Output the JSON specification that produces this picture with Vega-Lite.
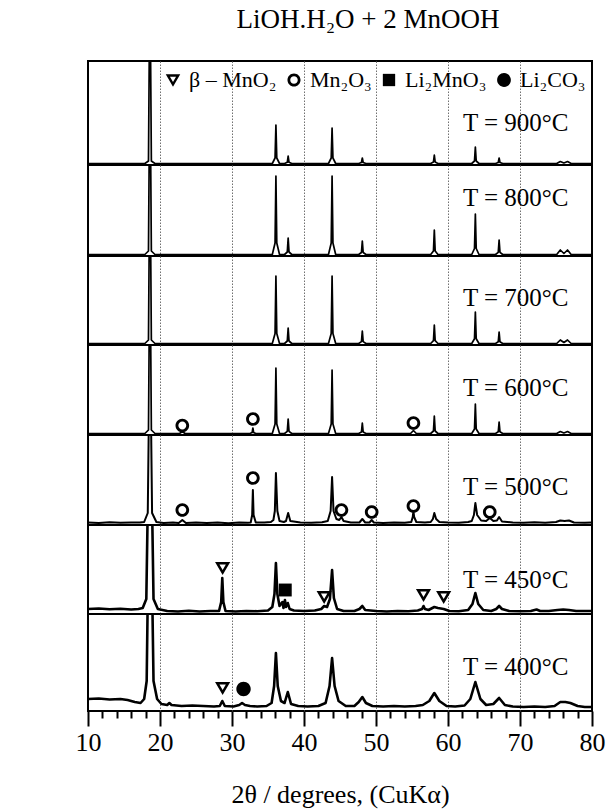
{
  "$schema": "https://vega.github.io/schema/vega-lite/v6.json",
  "background": "white",
  "padding": {"left": 74, "right": 10, "top": 6, "bottom": 2},
  "autosize": {"type": "pad"},
  "title": {"text": "LiOH.H₂O + 2 MnOOH", "font": "Liberation Serif", "fontSize": 27, "fontWeight": "normal", "color": "black", "anchor": "middle", "offset": 26, "dx": 28},
  "spacing": 0,
  "bounds": "flush",
  "datasets": {
    "patterns": [
      {"T":900,"x":10,"I":1.5},{"T":900,"x":17.9,"I":1.5},{"T":900,"x":18.4,"I":4},{"T":900,"x":18.6,"I":200},{"T":900,"x":18.8,"I":4},{"T":900,"x":19.3,"I":1.5},
      {"T":900,"x":35.6,"I":1.5},{"T":900,"x":35.98,"I":7},{"T":900,"x":36.1,"I":40},{"T":900,"x":36.22,"I":7},{"T":900,"x":36.6,"I":1.5},
      {"T":900,"x":37.3,"I":1.5},{"T":900,"x":37.68,"I":2.7},{"T":900,"x":37.8,"I":9},{"T":900,"x":37.92,"I":2.7},{"T":900,"x":38.3,"I":1.5},
      {"T":900,"x":43.4,"I":1.5},{"T":900,"x":43.78,"I":7},{"T":900,"x":43.9,"I":37},{"T":900,"x":44.02,"I":7},{"T":900,"x":44.4,"I":1.5},
      {"T":900,"x":47.6,"I":1.5},{"T":900,"x":47.98,"I":2.5},{"T":900,"x":48.1,"I":7},{"T":900,"x":48.22,"I":2.5},{"T":900,"x":48.6,"I":1.5},
      {"T":900,"x":57.6,"I":1.5},{"T":900,"x":57.98,"I":3},{"T":900,"x":58.1,"I":10},{"T":900,"x":58.22,"I":3},{"T":900,"x":58.6,"I":1.5},
      {"T":900,"x":63.3,"I":1.5},{"T":900,"x":63.68,"I":4},{"T":900,"x":63.8,"I":18},{"T":900,"x":63.92,"I":4},{"T":900,"x":64.3,"I":1.5},
      {"T":900,"x":66.6,"I":1.5},{"T":900,"x":66.98,"I":2.5},{"T":900,"x":67.1,"I":7},{"T":900,"x":67.22,"I":2.5},{"T":900,"x":67.6,"I":1.5},
      {"T":900,"x":75.1,"I":1.5},{"T":900,"x":75.6,"I":3.5},{"T":900,"x":76.1,"I":2},{"T":900,"x":76.6,"I":3.5},{"T":900,"x":77.1,"I":1.5},{"T":900,"x":80,"I":1.5},

      {"T":800,"x":10,"I":1.5},{"T":800,"x":17.9,"I":1.5},{"T":800,"x":18.4,"I":5},{"T":800,"x":18.6,"I":200},{"T":800,"x":18.8,"I":5},{"T":800,"x":19.3,"I":1.5},
      {"T":800,"x":35.6,"I":1.5},{"T":800,"x":35.98,"I":13},{"T":800,"x":36.1,"I":80},{"T":800,"x":36.22,"I":13},{"T":800,"x":36.6,"I":1.5},
      {"T":800,"x":37.3,"I":1.5},{"T":800,"x":37.68,"I":4},{"T":800,"x":37.8,"I":18},{"T":800,"x":37.92,"I":4},{"T":800,"x":38.3,"I":1.5},
      {"T":800,"x":43.4,"I":1.5},{"T":800,"x":43.78,"I":13},{"T":800,"x":43.9,"I":80},{"T":800,"x":44.02,"I":13},{"T":800,"x":44.4,"I":1.5},
      {"T":800,"x":47.6,"I":1.5},{"T":800,"x":47.98,"I":3.5},{"T":800,"x":48.1,"I":15},{"T":800,"x":48.22,"I":3.5},{"T":800,"x":48.6,"I":1.5},
      {"T":800,"x":57.6,"I":1.5},{"T":800,"x":57.98,"I":5},{"T":800,"x":58.1,"I":26},{"T":800,"x":58.22,"I":5},{"T":800,"x":58.6,"I":1.5},
      {"T":800,"x":63.3,"I":1.5},{"T":800,"x":63.68,"I":7.5},{"T":800,"x":63.8,"I":42},{"T":800,"x":63.92,"I":7.5},{"T":800,"x":64.3,"I":1.5},
      {"T":800,"x":66.6,"I":1.5},{"T":800,"x":66.98,"I":3.7},{"T":800,"x":67.1,"I":16},{"T":800,"x":67.22,"I":3.7},{"T":800,"x":67.6,"I":1.5},
      {"T":800,"x":75.1,"I":1.5},{"T":800,"x":75.6,"I":6},{"T":800,"x":76.1,"I":2.5},{"T":800,"x":76.6,"I":6},{"T":800,"x":77.1,"I":1.5},{"T":800,"x":80,"I":1.5},

      {"T":700,"x":10,"I":1.5},{"T":700,"x":17.9,"I":1.5},{"T":700,"x":18.4,"I":5},{"T":700,"x":18.6,"I":200},{"T":700,"x":18.8,"I":5},{"T":700,"x":19.3,"I":1.5},
      {"T":700,"x":35.6,"I":1.5},{"T":700,"x":35.98,"I":11.5},{"T":700,"x":36.1,"I":69},{"T":700,"x":36.22,"I":11.5},{"T":700,"x":36.6,"I":1.5},
      {"T":700,"x":37.3,"I":1.5},{"T":700,"x":37.68,"I":4},{"T":700,"x":37.8,"I":17},{"T":700,"x":37.92,"I":4},{"T":700,"x":38.3,"I":1.5},
      {"T":700,"x":43.4,"I":1.5},{"T":700,"x":43.78,"I":11.5},{"T":700,"x":43.9,"I":69},{"T":700,"x":44.02,"I":11.5},{"T":700,"x":44.4,"I":1.5},
      {"T":700,"x":47.6,"I":1.5},{"T":700,"x":47.98,"I":3.4},{"T":700,"x":48.1,"I":14},{"T":700,"x":48.22,"I":3.4},{"T":700,"x":48.6,"I":1.5},
      {"T":700,"x":57.6,"I":1.5},{"T":700,"x":57.98,"I":4.3},{"T":700,"x":58.1,"I":20},{"T":700,"x":58.22,"I":4.3},{"T":700,"x":58.6,"I":1.5},
      {"T":700,"x":63.3,"I":1.5},{"T":700,"x":63.68,"I":6.2},{"T":700,"x":63.8,"I":33},{"T":700,"x":63.92,"I":6.2},{"T":700,"x":64.3,"I":1.5},
      {"T":700,"x":66.6,"I":1.5},{"T":700,"x":66.98,"I":3.2},{"T":700,"x":67.1,"I":13},{"T":700,"x":67.22,"I":3.2},{"T":700,"x":67.6,"I":1.5},
      {"T":700,"x":75.1,"I":1.5},{"T":700,"x":75.6,"I":5},{"T":700,"x":76.1,"I":2.5},{"T":700,"x":76.6,"I":5},{"T":700,"x":77.1,"I":1.5},{"T":700,"x":80,"I":1.5},

      {"T":600,"x":10,"I":1.5},{"T":600,"x":17.9,"I":1.5},{"T":600,"x":18.4,"I":5},{"T":600,"x":18.6,"I":200},{"T":600,"x":18.8,"I":5},{"T":600,"x":19.3,"I":1.5},
      {"T":600,"x":22.7,"I":1.5},{"T":600,"x":23.1,"I":3.2},{"T":600,"x":23.5,"I":1.5},
      {"T":600,"x":32.5,"I":1.5},{"T":600,"x":32.8,"I":2.5},{"T":600,"x":32.9,"I":7},{"T":600,"x":33.0,"I":2.5},{"T":600,"x":33.3,"I":1.5},
      {"T":600,"x":35.6,"I":1.5},{"T":600,"x":35.98,"I":11},{"T":600,"x":36.1,"I":67},{"T":600,"x":36.22,"I":11},{"T":600,"x":36.6,"I":1.5},
      {"T":600,"x":37.3,"I":1.5},{"T":600,"x":37.68,"I":3.7},{"T":600,"x":37.8,"I":16},{"T":600,"x":37.92,"I":3.7},{"T":600,"x":38.3,"I":1.5},
      {"T":600,"x":43.4,"I":1.5},{"T":600,"x":43.78,"I":11},{"T":600,"x":43.9,"I":65},{"T":600,"x":44.02,"I":11},{"T":600,"x":44.4,"I":1.5},
      {"T":600,"x":47.6,"I":1.5},{"T":600,"x":47.98,"I":3},{"T":600,"x":48.1,"I":12},{"T":600,"x":48.22,"I":3},{"T":600,"x":48.6,"I":1.5},
      {"T":600,"x":54.8,"I":1.5},{"T":600,"x":55.2,"I":4.5},{"T":600,"x":55.6,"I":1.5},
      {"T":600,"x":57.6,"I":1.5},{"T":600,"x":57.98,"I":4},{"T":600,"x":58.1,"I":19},{"T":600,"x":58.22,"I":4},{"T":600,"x":58.6,"I":1.5},
      {"T":600,"x":63.3,"I":1.5},{"T":600,"x":63.68,"I":6},{"T":600,"x":63.8,"I":31},{"T":600,"x":63.92,"I":6},{"T":600,"x":64.3,"I":1.5},
      {"T":600,"x":66.6,"I":1.5},{"T":600,"x":66.98,"I":3.2},{"T":600,"x":67.1,"I":13},{"T":600,"x":67.22,"I":3.2},{"T":600,"x":67.6,"I":1.5},
      {"T":600,"x":75.1,"I":1.5},{"T":600,"x":75.6,"I":3.5},{"T":600,"x":76.1,"I":2},{"T":600,"x":76.6,"I":3.5},{"T":600,"x":77.1,"I":1.5},{"T":600,"x":80,"I":1.5},

      {"T":500,"x":10,"I":2.5},{"T":500,"x":11.5,"I":2},{"T":500,"x":13,"I":2.8},{"T":500,"x":14.5,"I":2.2},{"T":500,"x":16,"I":2.6},{"T":500,"x":17.2,"I":2.5},
      {"T":500,"x":17.8,"I":3},{"T":500,"x":18.3,"I":12},{"T":500,"x":18.6,"I":200},{"T":500,"x":18.9,"I":12},{"T":500,"x":19.5,"I":3},
      {"T":500,"x":20.5,"I":2},{"T":500,"x":21.8,"I":2.6},{"T":500,"x":22.6,"I":2},{"T":500,"x":23.1,"I":5},{"T":500,"x":23.6,"I":2},
      {"T":500,"x":25,"I":2.6},{"T":500,"x":26.5,"I":2},{"T":500,"x":28,"I":2.4},{"T":500,"x":29.5,"I":1.8},{"T":500,"x":31,"I":2.5},{"T":500,"x":32.2,"I":2.2},
      {"T":500,"x":32.6,"I":2.5},{"T":500,"x":32.8,"I":10},{"T":500,"x":32.9,"I":35},{"T":500,"x":33.0,"I":10},{"T":500,"x":33.3,"I":2.5},
      {"T":500,"x":34.5,"I":2.5},{"T":500,"x":35.4,"I":3},{"T":500,"x":35.75,"I":5},{"T":500,"x":35.95,"I":14},{"T":500,"x":36.1,"I":52},{"T":500,"x":36.3,"I":14},{"T":500,"x":36.6,"I":4},
      {"T":500,"x":37.2,"I":3},{"T":500,"x":37.5,"I":4},{"T":500,"x":37.8,"I":12},{"T":500,"x":38.1,"I":4},
      {"T":500,"x":39.5,"I":2.5},{"T":500,"x":41,"I":2.2},{"T":500,"x":42.5,"I":2.8},{"T":500,"x":43.3,"I":4},{"T":500,"x":43.7,"I":14},{"T":500,"x":43.9,"I":48},{"T":500,"x":44.1,"I":14},{"T":500,"x":44.5,"I":6},
      {"T":500,"x":44.9,"I":5},{"T":500,"x":45.2,"I":8},{"T":500,"x":45.5,"I":4},
      {"T":500,"x":46.5,"I":2.5},{"T":500,"x":47.7,"I":2.5},{"T":500,"x":48.1,"I":6},{"T":500,"x":48.5,"I":2.5},{"T":500,"x":49.1,"I":2.5},{"T":500,"x":49.4,"I":5},{"T":500,"x":49.7,"I":2.5},
      {"T":500,"x":51,"I":2},{"T":500,"x":52.5,"I":2.6},{"T":500,"x":54,"I":2.2},{"T":500,"x":54.9,"I":3},{"T":500,"x":55.1,"I":8},{"T":500,"x":55.2,"I":14},{"T":500,"x":55.3,"I":8},{"T":500,"x":55.6,"I":3},
      {"T":500,"x":56.8,"I":2.5},{"T":500,"x":57.6,"I":3},{"T":500,"x":57.9,"I":6},{"T":500,"x":58.1,"I":12},{"T":500,"x":58.35,"I":6},{"T":500,"x":58.8,"I":3},
      {"T":500,"x":60,"I":2.5},{"T":500,"x":61.5,"I":2.2},{"T":500,"x":62.8,"I":3},{"T":500,"x":63.3,"I":4},{"T":500,"x":63.6,"I":10},{"T":500,"x":63.8,"I":22},{"T":500,"x":64.05,"I":10},{"T":500,"x":64.6,"I":4.5},
      {"T":500,"x":65.3,"I":4},{"T":500,"x":65.8,"I":7},{"T":500,"x":66.3,"I":4},{"T":500,"x":66.8,"I":4.5},{"T":500,"x":67.1,"I":8},{"T":500,"x":67.5,"I":3.5},
      {"T":500,"x":69,"I":2.5},{"T":500,"x":70.5,"I":2.2},{"T":500,"x":72,"I":2.8},{"T":500,"x":73.5,"I":2.3},{"T":500,"x":75,"I":3},{"T":500,"x":75.6,"I":4.5},{"T":500,"x":76.2,"I":4},{"T":500,"x":76.8,"I":4.5},{"T":500,"x":77.5,"I":2.5},{"T":500,"x":79,"I":2.2},{"T":500,"x":80,"I":2.5},

      {"T":450,"x":10,"I":5},{"T":450,"x":11.5,"I":5.5},{"T":450,"x":13,"I":4.8},{"T":450,"x":14.5,"I":5.2},{"T":450,"x":16,"I":4.5},{"T":450,"x":17,"I":5},
      {"T":450,"x":17.6,"I":6},{"T":450,"x":18.1,"I":15},{"T":450,"x":18.5,"I":200},{"T":450,"x":18.7,"I":200},{"T":450,"x":19.1,"I":15},{"T":450,"x":19.7,"I":5},
      {"T":450,"x":21,"I":3},{"T":450,"x":22.5,"I":2.5},{"T":450,"x":24,"I":3.2},{"T":450,"x":25.5,"I":2.5},{"T":450,"x":27,"I":3},{"T":450,"x":28.2,"I":3},
      {"T":450,"x":28.5,"I":12},{"T":450,"x":28.65,"I":36},{"T":450,"x":28.8,"I":12},{"T":450,"x":29.1,"I":3},
      {"T":450,"x":30.5,"I":2.5},{"T":450,"x":32,"I":3},{"T":450,"x":33.5,"I":2.8},{"T":450,"x":35,"I":3.5},{"T":450,"x":35.6,"I":7},{"T":450,"x":35.9,"I":20},{"T":450,"x":36.1,"I":51},{"T":450,"x":36.3,"I":20},{"T":450,"x":36.6,"I":8},
      {"T":450,"x":37.0,"I":12},{"T":450,"x":37.15,"I":6},{"T":450,"x":37.35,"I":14},{"T":450,"x":37.5,"I":7},{"T":450,"x":37.75,"I":11},{"T":450,"x":38.0,"I":5},
      {"T":450,"x":38.6,"I":3.5},{"T":450,"x":40,"I":3},{"T":450,"x":41.5,"I":3.5},{"T":450,"x":42.4,"I":5},{"T":450,"x":42.8,"I":8},{"T":450,"x":43.2,"I":7},
      {"T":450,"x":43.6,"I":15},{"T":450,"x":43.9,"I":44},{"T":450,"x":44.15,"I":16},{"T":450,"x":44.6,"I":5},
      {"T":450,"x":45.5,"I":3},{"T":450,"x":47,"I":3},{"T":450,"x":47.7,"I":5},{"T":450,"x":48.1,"I":8},{"T":450,"x":48.5,"I":4},
      {"T":450,"x":50,"I":3},{"T":450,"x":51.5,"I":2.5},{"T":450,"x":53,"I":3},{"T":450,"x":54.5,"I":2.8},{"T":450,"x":55.8,"I":3.5},
      {"T":450,"x":56.4,"I":5},{"T":450,"x":56.6,"I":8},{"T":450,"x":56.8,"I":5},{"T":450,"x":57.3,"I":4},{"T":450,"x":58.1,"I":7},{"T":450,"x":58.6,"I":6},{"T":450,"x":59.4,"I":5},
      {"T":450,"x":60.2,"I":3},{"T":450,"x":61.5,"I":2.8},{"T":450,"x":62.8,"I":4},{"T":450,"x":63.4,"I":10},{"T":450,"x":63.8,"I":21},{"T":450,"x":64.2,"I":10},{"T":450,"x":64.9,"I":4},
      {"T":450,"x":66,"I":3},{"T":450,"x":66.7,"I":5},{"T":450,"x":67.1,"I":8},{"T":450,"x":67.5,"I":5},{"T":450,"x":68.5,"I":3},
      {"T":450,"x":70,"I":2.8},{"T":450,"x":71.5,"I":3},{"T":450,"x":72.3,"I":4.5},{"T":450,"x":72.8,"I":3},{"T":450,"x":74,"I":3},
      {"T":450,"x":75.2,"I":4},{"T":450,"x":76,"I":4.5},{"T":450,"x":76.8,"I":4},{"T":450,"x":77.8,"I":3},{"T":450,"x":79,"I":3},{"T":450,"x":80,"I":3},

      {"T":400,"x":10,"I":12},{"T":400,"x":11.5,"I":12.5},{"T":400,"x":13,"I":11.5},{"T":400,"x":14.5,"I":12},{"T":400,"x":15.5,"I":11},{"T":400,"x":16.5,"I":9},{"T":400,"x":17.3,"I":8},
      {"T":400,"x":17.8,"I":12},{"T":400,"x":18.15,"I":30},{"T":400,"x":18.45,"I":200},{"T":400,"x":18.75,"I":200},{"T":400,"x":19.1,"I":30},{"T":400,"x":19.6,"I":12},
      {"T":400,"x":20.2,"I":7},{"T":400,"x":21,"I":6},{"T":400,"x":21.3,"I":8},{"T":400,"x":21.6,"I":6},{"T":400,"x":23,"I":5},{"T":400,"x":24.5,"I":5.5},{"T":400,"x":26,"I":5},{"T":400,"x":27.5,"I":4.5},
      {"T":400,"x":28.3,"I":5},{"T":400,"x":28.65,"I":10},{"T":400,"x":29,"I":5},{"T":400,"x":30.2,"I":4.5},{"T":400,"x":31.0,"I":6},{"T":400,"x":31.4,"I":8},{"T":400,"x":31.8,"I":6},
      {"T":400,"x":32.5,"I":5},{"T":400,"x":33.5,"I":4.5},{"T":400,"x":34.8,"I":5},{"T":400,"x":35.5,"I":8},{"T":400,"x":35.85,"I":25},{"T":400,"x":36.1,"I":58},{"T":400,"x":36.35,"I":25},{"T":400,"x":36.8,"I":10},
      {"T":400,"x":37.3,"I":8},{"T":400,"x":37.75,"I":19},{"T":400,"x":38.2,"I":7},{"T":400,"x":39.2,"I":5},{"T":400,"x":40.5,"I":4.5},{"T":400,"x":42,"I":5},
      {"T":400,"x":43,"I":8},{"T":400,"x":43.55,"I":25},{"T":400,"x":43.9,"I":53},{"T":400,"x":44.25,"I":25},{"T":400,"x":44.8,"I":10},
      {"T":400,"x":45.8,"I":5},{"T":400,"x":47,"I":5},{"T":400,"x":47.6,"I":9},{"T":400,"x":48.1,"I":14},{"T":400,"x":48.6,"I":8},{"T":400,"x":49.5,"I":5},
      {"T":400,"x":51,"I":4.5},{"T":400,"x":52.5,"I":5},{"T":400,"x":54,"I":4.5},{"T":400,"x":55.5,"I":5},{"T":400,"x":56.5,"I":6},{"T":400,"x":57.4,"I":10},{"T":400,"x":58.1,"I":18},{"T":400,"x":58.8,"I":10},
      {"T":400,"x":59.8,"I":5},{"T":400,"x":61,"I":4.5},{"T":400,"x":62.3,"I":5.5},{"T":400,"x":63.1,"I":12},{"T":400,"x":63.8,"I":29},{"T":400,"x":64.5,"I":12},{"T":400,"x":65.3,"I":6},
      {"T":400,"x":66.3,"I":7},{"T":400,"x":67.1,"I":13},{"T":400,"x":67.9,"I":6},{"T":400,"x":69,"I":4.5},{"T":400,"x":70.5,"I":4},{"T":400,"x":72,"I":4.5},{"T":400,"x":73.5,"I":4},
      {"T":400,"x":74.8,"I":5},{"T":400,"x":75.6,"I":9},{"T":400,"x":76.3,"I":9},{"T":400,"x":77,"I":8},{"T":400,"x":78,"I":5},{"T":400,"x":79,"I":4},{"T":400,"x":80,"I":4}
    ],
    "markers": [
      {"T":600,"phase":"Mn₂O₃","x":23.1,"I":9.5},
      {"T":600,"phase":"Mn₂O₃","x":32.9,"I":16},
      {"T":600,"phase":"Mn₂O₃","x":55.2,"I":12},
      {"T":500,"phase":"Mn₂O₃","x":23.1,"I":15},
      {"T":500,"phase":"Mn₂O₃","x":32.9,"I":47},
      {"T":500,"phase":"Mn₂O₃","x":45.2,"I":15},
      {"T":500,"phase":"Mn₂O₃","x":49.4,"I":13},
      {"T":500,"phase":"Mn₂O₃","x":55.2,"I":19},
      {"T":500,"phase":"Mn₂O₃","x":65.8,"I":13},
      {"T":450,"phase":"β – MnO₂","x":28.7,"I":46},
      {"T":450,"phase":"Li₂MnO₃","x":37.4,"I":24},
      {"T":450,"phase":"β – MnO₂","x":42.8,"I":17},
      {"T":450,"phase":"β – MnO₂","x":56.6,"I":19},
      {"T":450,"phase":"β – MnO₂","x":59.4,"I":17},
      {"T":400,"phase":"β – MnO₂","x":28.7,"I":23},
      {"T":400,"phase":"Li₂CO₃","x":31.6,"I":22}
    ]
  },
  "vconcat": [
    {
      "width": 504, "height": 104,
      "layer": [
        {
          "data": {"name": "patterns"},
          "transform": [{"filter": "datum.T === 900"}],
          "mark": {"type": "line", "color": "black", "strokeWidth": 1.7, "strokeJoin": "round", "clip": true},
          "encoding": {
            "x": {"field": "x", "type": "quantitative", "scale": {"domain": [10, 80], "nice": false},
                  "axis": {"values": [20, 30, 40, 50, 60, 70], "labels": false, "ticks": false, "domain": false, "grid": true, "title": null, "minExtent": 0, "maxExtent": 0}},
            "y": {"field": "I", "type": "quantitative", "scale": {"domain": [0, 104], "nice": false, "zero": false}, "axis": null}
          }
        },
        {
          "data": {"values": [{"label": "T = 900°C"}]},
          "mark": {"type": "text", "font": "Liberation Serif", "fontSize": 25, "color": "black", "align": "center", "baseline": "middle"},
          "encoding": {"x": {"datum": 69.4}, "y": {"datum": 42}, "text": {"field": "label"}}
        }
      ]
    },
    {
      "width": 504, "height": 91,
      "layer": [
        {
          "data": {"name": "patterns"},
          "transform": [{"filter": "datum.T === 800"}],
          "mark": {"type": "line", "color": "black", "strokeWidth": 1.7, "strokeJoin": "round", "clip": true},
          "encoding": {
            "x": {"field": "x", "type": "quantitative", "scale": {"domain": [10, 80], "nice": false},
                  "axis": {"values": [20, 30, 40, 50, 60, 70], "labels": false, "ticks": false, "domain": false, "grid": true, "title": null, "minExtent": 0, "maxExtent": 0}},
            "y": {"field": "I", "type": "quantitative", "scale": {"domain": [0, 91], "nice": false, "zero": false}, "axis": null}
          }
        },
        {
          "data": {"values": [{"label": "T = 800°C"}]},
          "mark": {"type": "text", "font": "Liberation Serif", "fontSize": 25, "color": "black", "align": "center", "baseline": "middle"},
          "encoding": {"x": {"datum": 69.4}, "y": {"datum": 58}, "text": {"field": "label"}}
        }
      ]
    },
    {
      "width": 504, "height": 89,
      "layer": [
        {
          "data": {"name": "patterns"},
          "transform": [{"filter": "datum.T === 700"}],
          "mark": {"type": "line", "color": "black", "strokeWidth": 1.7, "strokeJoin": "round", "clip": true},
          "encoding": {
            "x": {"field": "x", "type": "quantitative", "scale": {"domain": [10, 80], "nice": false},
                  "axis": {"values": [20, 30, 40, 50, 60, 70], "labels": false, "ticks": false, "domain": false, "grid": true, "title": null, "minExtent": 0, "maxExtent": 0}},
            "y": {"field": "I", "type": "quantitative", "scale": {"domain": [0, 89], "nice": false, "zero": false}, "axis": null}
          }
        },
        {
          "data": {"values": [{"label": "T = 700°C"}]},
          "mark": {"type": "text", "font": "Liberation Serif", "fontSize": 25, "color": "black", "align": "center", "baseline": "middle"},
          "encoding": {"x": {"datum": 69.4}, "y": {"datum": 47}, "text": {"field": "label"}}
        }
      ]
    },
    {
      "width": 504, "height": 90,
      "layer": [
        {
          "data": {"name": "patterns"},
          "transform": [{"filter": "datum.T === 600"}],
          "mark": {"type": "line", "color": "black", "strokeWidth": 1.7, "strokeJoin": "round", "clip": true},
          "encoding": {
            "x": {"field": "x", "type": "quantitative", "scale": {"domain": [10, 80], "nice": false},
                  "axis": {"values": [20, 30, 40, 50, 60, 70], "labels": false, "ticks": false, "domain": false, "grid": true, "title": null, "minExtent": 0, "maxExtent": 0}},
            "y": {"field": "I", "type": "quantitative", "scale": {"domain": [0, 90], "nice": false, "zero": false}, "axis": null}
          }
        },
        {
          "data": {"name": "markers"},
          "transform": [{"filter": "datum.T === 600"}],
          "mark": {"type": "point", "filled": true, "color": "black", "strokeWidth": 0, "size": 230, "opacity": 1},
          "encoding": {
            "x": {"field": "x", "type": "quantitative"},
            "y": {"field": "I", "type": "quantitative"},
            "shape": {"field": "phase", "type": "nominal",
                      "scale": {"domain": ["β – MnO₂", "Mn₂O₃", "Li₂MnO₃", "Li₂CO₃"],
                                "range": ["M-1,-0.8L1,-0.8L0,0.93ZM-0.42,-0.465L0,0.261L0.42,-0.465Z",
                                          "M-0.9,0A0.9,0.9,0,1,0,0.9,0A0.9,0.9,0,1,0,-0.9,0ZM-0.52,0A0.52,0.52,0,1,1,0.52,0A0.52,0.52,0,1,1,-0.52,0Z",
                                          "M-0.85,-0.85L0.85,-0.85L0.85,0.85L-0.85,0.85Z",
                                          "M-0.95,0A0.95,0.95,0,1,0,0.95,0A0.95,0.95,0,1,0,-0.95,0Z"]},
                      "legend": {"title": null}}
          }
        },
        {
          "data": {"values": [{"label": "T = 600°C"}]},
          "mark": {"type": "text", "font": "Liberation Serif", "fontSize": 25, "color": "black", "align": "center", "baseline": "middle"},
          "encoding": {"x": {"datum": 69.4}, "y": {"datum": 47}, "text": {"field": "label"}}
        }
      ]
    },
    {
      "width": 504, "height": 90,
      "layer": [
        {
          "data": {"name": "patterns"},
          "transform": [{"filter": "datum.T === 500"}],
          "mark": {"type": "line", "color": "black", "strokeWidth": 2, "strokeJoin": "round", "clip": true},
          "encoding": {
            "x": {"field": "x", "type": "quantitative", "scale": {"domain": [10, 80], "nice": false},
                  "axis": {"values": [20, 30, 40, 50, 60, 70], "labels": false, "ticks": false, "domain": false, "grid": true, "title": null, "minExtent": 0, "maxExtent": 0}},
            "y": {"field": "I", "type": "quantitative", "scale": {"domain": [0, 90], "nice": false, "zero": false}, "axis": null}
          }
        },
        {
          "data": {"name": "markers"},
          "transform": [{"filter": "datum.T === 500"}],
          "mark": {"type": "point", "filled": true, "color": "black", "strokeWidth": 0, "size": 230, "opacity": 1},
          "encoding": {
            "x": {"field": "x", "type": "quantitative"},
            "y": {"field": "I", "type": "quantitative"},
            "shape": {"field": "phase", "type": "nominal",
                      "scale": {"domain": ["β – MnO₂", "Mn₂O₃", "Li₂MnO₃", "Li₂CO₃"],
                                "range": ["M-1,-0.8L1,-0.8L0,0.93ZM-0.42,-0.465L0,0.261L0.42,-0.465Z",
                                          "M-0.9,0A0.9,0.9,0,1,0,0.9,0A0.9,0.9,0,1,0,-0.9,0ZM-0.52,0A0.52,0.52,0,1,1,0.52,0A0.52,0.52,0,1,1,-0.52,0Z",
                                          "M-0.85,-0.85L0.85,-0.85L0.85,0.85L-0.85,0.85Z",
                                          "M-0.95,0A0.95,0.95,0,1,0,0.95,0A0.95,0.95,0,1,0,-0.95,0Z"]},
                      "legend": {"title": null}}
          }
        },
        {
          "data": {"values": [{"label": "T = 500°C"}]},
          "mark": {"type": "text", "font": "Liberation Serif", "fontSize": 25, "color": "black", "align": "center", "baseline": "middle"},
          "encoding": {"x": {"datum": 69.4}, "y": {"datum": 38}, "text": {"field": "label"}}
        }
      ]
    },
    {
      "width": 504, "height": 89,
      "layer": [
        {
          "data": {"name": "patterns"},
          "transform": [{"filter": "datum.T === 450"}],
          "mark": {"type": "line", "color": "black", "strokeWidth": 2.6, "strokeJoin": "round", "clip": true},
          "encoding": {
            "x": {"field": "x", "type": "quantitative", "scale": {"domain": [10, 80], "nice": false},
                  "axis": {"values": [20, 30, 40, 50, 60, 70], "labels": false, "ticks": false, "domain": false, "grid": true, "title": null, "minExtent": 0, "maxExtent": 0}},
            "y": {"field": "I", "type": "quantitative", "scale": {"domain": [0, 89], "nice": false, "zero": false}, "axis": null}
          }
        },
        {
          "data": {"name": "markers"},
          "transform": [{"filter": "datum.T === 450"}],
          "mark": {"type": "point", "filled": true, "color": "black", "strokeWidth": 0, "size": 230, "opacity": 1},
          "encoding": {
            "x": {"field": "x", "type": "quantitative"},
            "y": {"field": "I", "type": "quantitative"},
            "shape": {"field": "phase", "type": "nominal",
                      "scale": {"domain": ["β – MnO₂", "Mn₂O₃", "Li₂MnO₃", "Li₂CO₃"],
                                "range": ["M-1,-0.8L1,-0.8L0,0.93ZM-0.42,-0.465L0,0.261L0.42,-0.465Z",
                                          "M-0.9,0A0.9,0.9,0,1,0,0.9,0A0.9,0.9,0,1,0,-0.9,0ZM-0.52,0A0.52,0.52,0,1,1,0.52,0A0.52,0.52,0,1,1,-0.52,0Z",
                                          "M-0.85,-0.85L0.85,-0.85L0.85,0.85L-0.85,0.85Z",
                                          "M-0.95,0A0.95,0.95,0,1,0,0.95,0A0.95,0.95,0,1,0,-0.95,0Z"]},
                      "legend": {"title": null}}
          }
        },
        {
          "data": {"values": [{"label": "T = 450°C"}]},
          "mark": {"type": "text", "font": "Liberation Serif", "fontSize": 25, "color": "black", "align": "center", "baseline": "middle"},
          "encoding": {"x": {"datum": 69.4}, "y": {"datum": 34}, "text": {"field": "label"}}
        }
      ]
    },
    {
      "width": 504, "height": 97,
      "resolve": {"axis": {"x": "independent"}},
      "layer": [
        {
          "data": {"name": "patterns"},
          "transform": [{"filter": "datum.T === 400"}],
          "mark": {"type": "line", "color": "black", "strokeWidth": 2.6, "strokeJoin": "round", "clip": true},
          "encoding": {
            "x": {"field": "x", "type": "quantitative", "scale": {"domain": [10, 80], "nice": false},
                  "axis": {
                    "orient": "bottom",
                    "values": [12, 14, 16, 18, 22, 24, 26, 28, 32, 34, 36, 38, 42, 44, 46, 48, 52, 54, 56, 58, 62, 64, 66, 68, 72, 74, 76, 78],
                    "grid": false, "domain": false, "labels": false, "title": null,
                    "ticks": true, "tickColor": "black", "tickWidth": 2, "tickSize": 7
                  }},
            "y": {"field": "I", "type": "quantitative", "scale": {"domain": [0, 97], "nice": false, "zero": false}, "axis": null}
          }
        },
        {
          "data": {"name": "markers"},
          "transform": [{"filter": "datum.T === 400"}],
          "mark": {"type": "point", "filled": true, "color": "black", "strokeWidth": 0, "size": 230, "opacity": 1},
          "encoding": {
            "x": {"field": "x", "type": "quantitative", "axis": null},
            "y": {"field": "I", "type": "quantitative", "axis": null},
            "shape": {"field": "phase", "type": "nominal",
                      "scale": {"domain": ["β – MnO₂", "Mn₂O₃", "Li₂MnO₃", "Li₂CO₃"],
                                "range": ["M-1,-0.8L1,-0.8L0,0.93ZM-0.42,-0.465L0,0.261L0.42,-0.465Z",
                                          "M-0.9,0A0.9,0.9,0,1,0,0.9,0A0.9,0.9,0,1,0,-0.9,0ZM-0.52,0A0.52,0.52,0,1,1,0.52,0A0.52,0.52,0,1,1,-0.52,0Z",
                                          "M-0.85,-0.85L0.85,-0.85L0.85,0.85L-0.85,0.85Z",
                                          "M-0.95,0A0.95,0.95,0,1,0,0.95,0A0.95,0.95,0,1,0,-0.95,0Z"]},
                      "legend": {"title": null}}
          }
        },
        {
          "data": {"values": [{"label": "T = 400°C"}]},
          "mark": {"type": "text", "font": "Liberation Serif", "fontSize": 25, "color": "black", "align": "center", "baseline": "middle"},
          "encoding": {
            "x": {"datum": 69.4, "type": "quantitative",
                  "axis": {
                    "orient": "bottom",
                    "values": [10, 20, 30, 40, 50, 60, 70, 80],
                    "grid": true, "gridOpacity": {"condition": {"test": "datum.value > 10 && datum.value < 80", "value": 1}, "value": 0},
                    "domain": false,
                    "ticks": true, "tickColor": "black", "tickWidth": 2, "tickSize": 15,
                    "labelFont": "Liberation Serif", "labelFontSize": 26, "labelColor": "black", "labelPadding": 3,
                    "labelOverlap": false, "labelFlush": false,
                    "title": "2θ / degrees, (CuKα)", "titleFont": "Liberation Serif", "titleFontSize": 26, "titleFontWeight": "normal", "titleColor": "black", "titlePadding": 26
                  }},
            "y": {"datum": 44, "axis": null},
            "text": {"field": "label"}
          }
        }
      ]
    }
  ],
  "config": {
    "view": {"stroke": "black", "strokeWidth": 2},
    "axis": {"gridColor": "#707070", "gridDash": [1.5, 1.5], "gridWidth": 1},
    "legend": {
      "orient": "none", "legendX": 74, "legendY": 8, "direction": "horizontal",
      "labelFont": "Liberation Serif", "labelFontSize": 22, "labelColor": "black", "labelOffset": 5,
      "columnPadding": 6, "symbolSize": 210, "symbolStrokeWidth": 0, "padding": 0
    }
  }
}
